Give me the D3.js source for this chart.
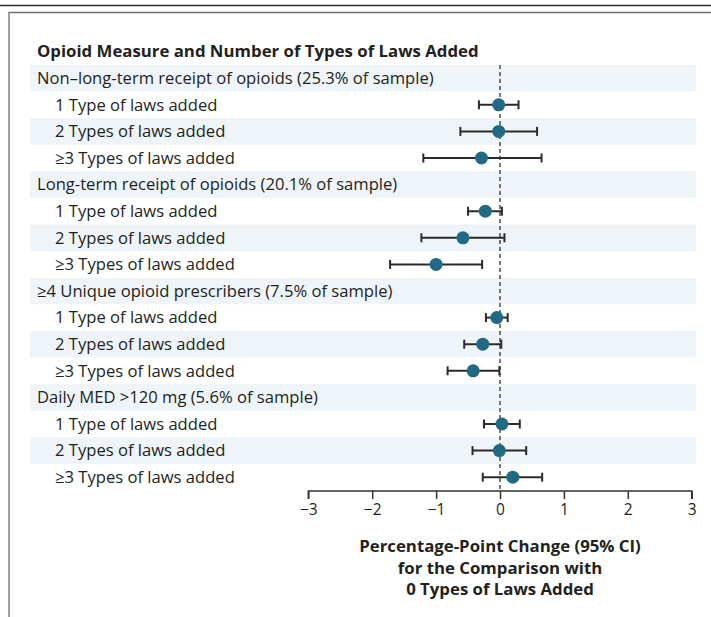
<!DOCTYPE html>
<html><head><meta charset="utf-8">
<script src="https://cdn.jsdelivr.net/npm/d3@7"></script>
<style>
html,body{margin:0;padding:0;background:#fff;}
svg{display:block;}
text{font-family:"Open Sans","Noto Sans",sans-serif;fill:#231f20;}
</style></head>
<body>
<svg id="chart" width="711" height="617"></svg>
<script>
// ---- data ----
const chartTitle = "Opioid Measure and Number of Types of Laws Added";
const groups = [
  "Non\u2013long-term receipt of opioids (25.3% of sample)",
  "Long-term receipt of opioids (20.1% of sample)",
  "\u22654 Unique opioid prescribers (7.5% of sample)",
  "Daily MED >120 mg (5.6% of sample)"
];
const subLabels = ["1 Type of laws added", "2 Types of laws added", "\u22653 Types of laws added"];
// estimates [group][sub]
const estimates = [
  [-0.02, -0.02, -0.29],
  [-0.23, -0.58, -1.00],
  [-0.05, -0.27, -0.42],
  [ 0.03, -0.01,  0.20]
];
const lowerCI = [
  [-0.33, -0.62, -1.20],
  [-0.50, -1.23, -1.72],
  [-0.22, -0.56, -0.82],
  [-0.25, -0.43, -0.27]
];
const upperCI = [
  [ 0.29,  0.58,  0.65],
  [ 0.03,  0.07, -0.28],
  [ 0.12,  0.02, -0.01],
  [ 0.31,  0.41,  0.66]
];
const tickValues = [-3, -2, -1, 0, 1, 2, 3];
const axisTitle = ["Percentage-Point Change (95% CI)", "for the Comparison with", "0 Types of Laws Added"];

// ---- build rows ----
const rows = [];
groups.forEach((g, gi) => {
  rows.push({type: "header", label: g});
  subLabels.forEach((s, si) => {
    rows.push({type: "item", label: s, est: estimates[gi][si], lo: lowerCI[gi][si], hi: upperCI[gi][si]});
  });
});

const svg = d3.select("#chart");

// frame lines
svg.append("line").attr("x1", 0).attr("x2", 711).attr("y1", 5.5).attr("y2", 5.5)
  .attr("stroke", "#2b2b2b").attr("stroke-width", 1.6);
svg.append("path").attr("d", "M9,617 V12.5 H711")
  .attr("fill", "none").attr("stroke", "#6d6d6d").attr("stroke-width", 1.3);

const x = d3.scaleLinear().domain([-3, 3]).range([308.3, 691.7]);
const y = d3.scaleBand().domain(d3.range(rows.length)).range([64.9, 490.5]).paddingInner(0).paddingOuter(0);
const bh = y.bandwidth();

// title
svg.append("text").attr("x", 37).attr("y", 56.5)
  .attr("font-size", 16.8).attr("font-weight", 700).text(chartTitle);

// bands
svg.append("g").selectAll("rect").data(rows.map((r, i) => i).filter(i => i % 2 === 0))
  .join("rect")
  .attr("x", 30).attr("width", 666)
  .attr("y", i => y(i)).attr("height", bh)
  .attr("fill", "#eff4f8");

// row labels
svg.append("g").selectAll("text").data(rows).join("text")
  .attr("x", d => d.type === "header" ? 37 : 55)
  .attr("y", (d, i) => y(i) + bh / 2 + 5.8)
  .attr("font-size", 16.6)
  .text(d => d.label);

// zero reference
svg.append("line")
  .attr("x1", x(0)).attr("x2", x(0))
  .attr("y1", y(0)).attr("y2", 490.5)
  .attr("stroke", "#231f20").attr("stroke-width", 1.2)
  .attr("stroke-dasharray", "4,3");

// axis
const axis = d3.axisBottom(x).tickValues(tickValues).tickSize(8).tickPadding(5)
  .tickFormat(d => d < 0 ? "\u2212" + Math.abs(d) : String(d));
const ag = svg.append("g").attr("transform", "translate(0,491)").call(axis);
ag.select(".domain").attr("stroke", "#333").attr("stroke-width", 1.5).attr("d", `M${x(-3)},8V0H${x(3)}V8`);
ag.selectAll(".tick line").attr("stroke", "#333").attr("stroke-width", 1.5);
ag.selectAll(".tick text").attr("font-size", 15.5).attr("fill", "#231f20")
  .style("font-family", "'Open Sans', 'Noto Sans', sans-serif");

// axis title
svg.append("g").selectAll("text").data(axisTitle).join("text")
  .attr("x", x(0)).attr("y", (d, i) => 552 + i * 21.5)
  .attr("text-anchor", "middle").attr("font-size", 16.8).attr("font-weight", 700)
  .text(d => d);

// error bars and points
const items = rows.map((r, i) => ({...r, i})).filter(r => r.type === "item");
const eg = svg.append("g");
const capH = 4.5;
eg.selectAll("line.ci").data(items).join("line").attr("class", "ci")
  .attr("x1", d => x(d.lo)).attr("x2", d => x(d.hi))
  .attr("y1", d => y(d.i) + bh / 2).attr("y2", d => y(d.i) + bh / 2)
  .attr("stroke", "#2b2b2b").attr("stroke-width", 2);
eg.selectAll("line.capl").data(items).join("line").attr("class", "capl")
  .attr("x1", d => x(d.lo)).attr("x2", d => x(d.lo))
  .attr("y1", d => y(d.i) + bh / 2 - capH).attr("y2", d => y(d.i) + bh / 2 + capH)
  .attr("stroke", "#2b2b2b").attr("stroke-width", 2);
eg.selectAll("line.caph").data(items).join("line").attr("class", "caph")
  .attr("x1", d => x(d.hi)).attr("x2", d => x(d.hi))
  .attr("y1", d => y(d.i) + bh / 2 - capH).attr("y2", d => y(d.i) + bh / 2 + capH)
  .attr("stroke", "#2b2b2b").attr("stroke-width", 2);
eg.selectAll("circle").data(items).join("circle")
  .attr("cx", d => x(d.est)).attr("cy", d => y(d.i) + bh / 2)
  .attr("r", 6.5).attr("fill", "#206a86");
</script>
</body></html>
